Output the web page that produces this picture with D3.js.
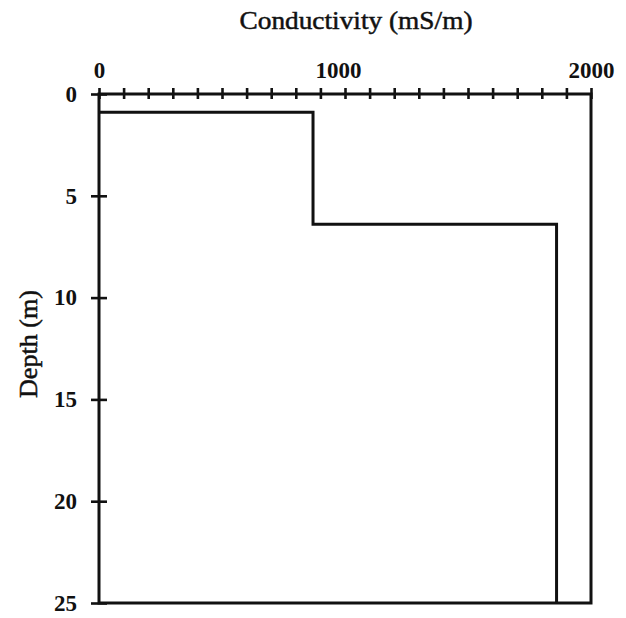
<!DOCTYPE html>
<html>
<head>
<meta charset="utf-8">
<script src="https://cdn.jsdelivr.net/npm/d3@7"></script>
<style>
  html, body { margin: 0; padding: 0; background: #fff; }
  svg { display: block; }
  text { font-family: "Liberation Serif", "DejaVu Serif", serif; fill: #111; }
</style>
</head>
<body>
<script>
// ---- data ----
const stepConductivity = [0, 870, 870, 1860, 1860];   // mS/m
const stepDepth        = [0.9, 0.9, 6.4, 6.4, 25];    // m
const xTickValues = d3.range(0, 2001, 100);
const xTickLabels = [0, 1000, 2000];
const yTickValues = [0, 5, 10, 15, 20, 25];
const xTitle = "Conductivity (mS/m)";
const yTitle = "Depth (m)";

const W = 626, H = 618;
const svg = d3.select("body").append("svg").attr("width", W).attr("height", H);

const x = d3.scaleLinear().domain([0, 2000]).range([99, 591]);
const y = d3.scaleLinear().domain([0, 25]).range([94, 603]);
const ink = "#111";

// frame
svg.append("rect")
  .attr("x", x(0)).attr("y", y(0))
  .attr("width", x(2000) - x(0)).attr("height", y(25) - y(0))
  .attr("fill", "none").attr("stroke", ink).attr("stroke-width", 3);

// top axis
const gx = svg.append("g").attr("transform", `translate(0,${y(0)})`)
  .call(d3.axisTop(x).tickValues(xTickValues).tickSize(6).tickSizeOuter(0).tickPadding(10)
    .tickFormat(d => xTickLabels.includes(d) ? d : ""));
gx.select(".domain").remove();
gx.selectAll(".tick line").attr("y1", 5).attr("y2", -6).attr("stroke", ink).attr("stroke-width", 2.6);
gx.selectAll(".tick text").attr("font-size", 23).attr("font-weight", "bold").attr("fill", ink)
  .attr("dx", d => d === 1000 ? -7 : 0);

// left axis
const gy = svg.append("g").attr("transform", `translate(${x(0)},0)`)
  .call(d3.axisLeft(y).tickValues(yTickValues).tickSize(8).tickSizeOuter(0).tickPadding(14));
gy.select(".domain").remove();
gy.selectAll(".tick line").attr("x1", 8).attr("x2", -8).attr("stroke", ink).attr("stroke-width", 2.6);
gy.selectAll(".tick text").attr("font-size", 23).attr("font-weight", "bold").attr("fill", ink);

// step profile
const pts = stepConductivity.map((c, i) => [c, stepDepth[i]]);
svg.append("path")
  .datum(pts)
  .attr("d", d3.line().x(d => x(d[0])).y(d => y(d[1])))
  .attr("fill", "none").attr("stroke", ink).attr("stroke-width", 3)
  .attr("stroke-linejoin", "miter");

// titles
svg.append("text")
  .attr("x", 356).attr("y", 29)
  .attr("text-anchor", "middle")
  .attr("font-size", 26)
  .attr("stroke", ink).attr("stroke-width", 0.5)
  .attr("textLength", 233).attr("lengthAdjust", "spacingAndGlyphs")
  .text(xTitle);

svg.append("text")
  .attr("transform", "translate(37,344) rotate(-90)")
  .attr("text-anchor", "middle")
  .attr("font-size", 25)
  .attr("stroke", ink).attr("stroke-width", 0.5)
  .attr("textLength", 108).attr("lengthAdjust", "spacingAndGlyphs")
  .text(yTitle);
</script>
</body>
</html>
